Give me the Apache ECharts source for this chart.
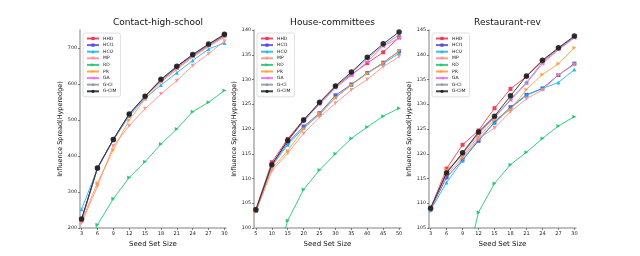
<!DOCTYPE html>
<html><head><meta charset="utf-8">
<script src="https://cdn.jsdelivr.net/npm/echarts@6/dist/echarts.min.js"></script>
<style>html,body{margin:0;padding:0;background:#fff}#c{width:640px;height:256px}</style>
</head><body><div id="c"></div>
<script>
const titles = ["Contact-high-school", "House-committees", "Restaurant-rev"];
const seriesNames = ["HHD","HCI1","HCI2","MP","RD","PR","GA","G-CI","G-CIM"];
const x1 = [3,6,9,12,15,18,21,24,27,30];
const x2 = [5,10,15,20,25,30,35,40,45,50];
const x3 = [3,6,9,12,15,18,21,24,27,30];
const yTicks1 = [200,300,400,500,600,700];
const yTicks2 = [100,105,110,115,120,125,130,135,140];
const yTicks3 = [105,110,115,120,125,130,135,140,145];

// Panel 1: Contact-high-school
const p1_HHD  = [222,366,446,515,565,610,646,679,708,735];
const p1_HCI1 = [224,367,446,516,565,611,647,680,709,737];
const p1_HCI2 = [252,365,444,511,560,597,631,665,697,714];
const p1_MP   = [213,316,428,484,531,572,609,651,684,719];
const p1_RD   = [60,209,281,340,384,433,475,523,549,582];
const p1_PR   = [219,325,417,500,558,605,640,674,704,730];
const p1_GA   = [220,366,445,515,564,608,644,677,706,733];
const p1_GCI  = [223,366,446,516,565,610,646,679,708,734];
const p1_GCIM = [225,367,446,517,566,613,649,682,711,738];

// Panel 2: House-committees
const p2_HHD  = [103.8,113.3,118.0,121.9,125.2,128.6,131.0,133.3,135.5,138.5];
const p2_HCI1 = [103.5,112.7,117.2,120.5,123.2,126.8,129.0,131.3,133.4,135.7];
const p2_HCI2 = [103.5,112.5,116.8,120.2,122.9,126.4,128.9,131.3,133.2,135.3];
const p2_MP   = [103.3,111.5,115.1,119.1,122.4,125.2,127.9,130.0,132.6,134.6];
const p2_RD   = [78,90,101.5,107.8,111.7,115.0,118.1,120.4,122.6,124.2];
const p2_PR   = [103.3,112.0,115.6,120.0,123.2,126.3,128.9,131.2,133.4,135.8];
const p2_GA   = [103.6,112.8,117.6,121.6,125.0,128.3,130.8,133.6,136.7,138.4];
const p2_GCI  = [103.6,112.8,117.5,121.6,125.1,128.4,131.3,134.2,136.9,139.0];
const p2_GCIM = [103.7,112.8,117.7,121.8,125.4,128.7,131.5,134.5,137.2,139.6];

// Panel 3: Restaurant-rev
const p3_HHD  = [109.0,117.0,121.8,124.7,129.2,133.1,135.6,138.7,141.3,143.6];
const p3_HCI1 = [108.8,115.2,118.8,122.6,126.4,129.4,131.9,133.2,135.9,138.2];
const p3_HCI2 = [108.6,114.2,118.6,123.0,126.2,129.2,131.8,133.2,134.4,137.0];
const p3_MP   = [108.8,115.8,119.2,123.0,125.2,128.5,131.1,132.9,135.9,138.0];
const p3_RD   = [78,88,94.5,108.2,114.0,117.8,120.3,123.1,125.6,127.5];
const p3_PR   = [108.8,116.7,119.5,123.5,126.8,128.9,133.0,136.0,138.2,141.4];
const p3_GA   = [109.0,116.3,120.0,124.0,127.3,130.8,134.2,138.2,141.0,143.4];
const p3_GCI  = [109.0,116.2,120.0,124.2,127.4,131.0,134.4,138.5,141.1,143.6];
const p3_GCIM = [109.0,116.1,120.2,124.4,127.6,131.7,135.7,138.9,141.4,143.8];

const panels = [
  {x:x1, data:[p1_HHD,p1_HCI1,p1_HCI2,p1_MP,p1_RD,p1_PR,p1_GA,p1_GCI,p1_GCIM], ymin:200, ymax:750, yt:yTicks1, xmin:2.7, xmax:30.3},
  {x:x2, data:[p2_HHD,p2_HCI1,p2_HCI2,p2_MP,p2_RD,p2_PR,p2_GA,p2_GCI,p2_GCIM], ymin:100, ymax:140, yt:yTicks2, xmin:4.4, xmax:50.6},
  {x:x3, data:[p3_HHD,p3_HCI1,p3_HCI2,p3_MP,p3_RD,p3_PR,p3_GA,p3_GCI,p3_GCIM], ymin:105, ymax:145, yt:yTicks3, xmin:2.7, xmax:30.3}
];

const styles = [
  {c:'#f0304a', s:'rect', r:0},
  {c:'#4b4bd6', s:'rect', r:0},
  {c:'#14b4f0', s:'triangle', r:0},
  {c:'#ff8c8c', s:'triangle', r:180},
  {c:'#18c46a', s:'triangle', r:-90},
  {c:'#ff9a30', s:'triangle', r:-90},
  {c:'#ee66ee', s:'triangle', r:90},
  {c:'#8896a8', s:'diamond', r:0},
  {c:'#1e1e1e', s:'circle', r:0}
];

const lefts = [80, 254, 429];
const widths = [146, 147, 147];
const font = 'DejaVu Sans';
const grid = [], xAxis = [], yAxis = [], series = [], title = [], legend = [];
panels.forEach((p, i) => {
  grid.push({left: lefts[i], top: 30, width: widths[i], height: 198});
  title.push({text: titles[i], left: lefts[i] + widths[i]/2, top: 13, textAlign: 'center',
    textStyle: {fontFamily: font, fontSize: 9, fontWeight: 'normal', color: '#111'}});
  xAxis.push({type:'value', gridIndex:i, min:p.xmin, max:p.xmax, name:'Seed Set Size', nameLocation:'middle', nameGap:10,
    nameTextStyle:{fontFamily:font, fontSize:7, color:'#111'},
    axisLine:{show:true, lineStyle:{color:'#aaa', width:1.5}},
    axisTick:{show:true, inside:false, length:2, customValues:p.x, lineStyle:{color:'#333', width:0.6}},
    axisLabel:{customValues:p.x, fontFamily:font, fontSize:5, color:'#222', margin:3},
    splitLine:{show:false}});
  yAxis.push({type:'value', gridIndex:i, min:p.ymin, max:p.ymax, name:'Influence Spread(Hyperedge)', nameLocation:'middle', nameGap:15,
    nameTextStyle:{fontFamily:font, fontSize:6.5, color:'#111'},
    axisLine:{show:true, lineStyle:{color:'#aaa', width:1.5}},
    axisTick:{show:true, inside:false, length:2, customValues:p.yt, lineStyle:{color:'#333', width:0.6}},
    axisLabel:{customValues:p.yt, fontFamily:font, fontSize:4.8, color:'#222', margin:3},
    splitLine:{show:false}});
  seriesNames.forEach((n, k) => {
    const st = styles[k];
    series.push({type:'line', name:n, xAxisIndex:i, yAxisIndex:i,
      data: p.x.map((xv, j) => [xv, p.data[k][j]]),
      symbol: st.s, symbolRotate: st.r, symbolSize: k===8 ? 5.5 : 4,
      showAllSymbol:true, clip:true, z: 2 + k*0.1,
      lineStyle:{color:st.c, width:1, opacity:0.85},
      itemStyle:{color:st.c, opacity:0.9},
      emphasis:{disabled:true}, animation:false});
  });
  legend.push({data: seriesNames, orient:'vertical', left: lefts[i] + 3, top: 33,
    itemWidth: 12, itemHeight: 4, itemGap: 1.6, padding:[3,4,3,3],
    backgroundColor:'rgba(255,255,255,0.85)', borderColor:'#d8d8d8', borderWidth:0.8, borderRadius:2,
    textStyle:{fontFamily:font, fontSize:4.5, color:'#222', padding:[0,0,0,-1]},
    selectedMode:false});
});

const chart = echarts.init(document.getElementById('c'), null, {renderer:'canvas'});
chart.setOption({backgroundColor:'#fff', animation:false, title, legend, grid, xAxis, yAxis, series});
</script></body></html>
